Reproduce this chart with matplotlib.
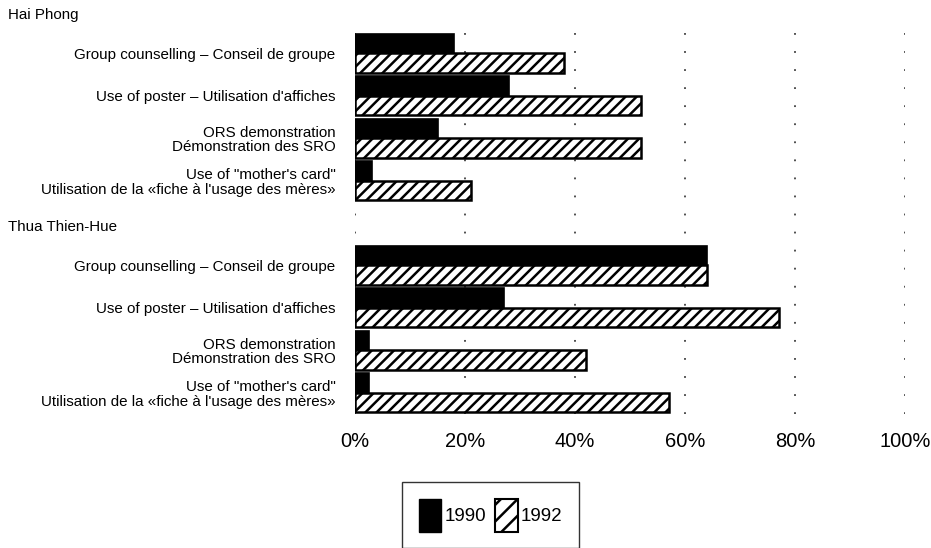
import matplotlib
matplotlib.use('Agg')
import matplotlib.pyplot as plt
from matplotlib.patches import Patch
from matplotlib.transforms import blended_transform_factory
import numpy as np

plt.rcParams['font.family'] = ['Liberation Sans', 'DejaVu Sans']
plt.rcParams['hatch.linewidth'] = 1.8
plt.rcParams['hatch.color'] = 'black'

# ---- data ----
groups = ['Hai Phong', 'Thua Thien-Hue']
categories = [
    'Group counselling – Conseil de groupe',
    "Use of poster – Utilisation d'affiches",
    'ORS demonstration\nDémonstration des SRO',
    'Use of "mother\'s card"\nUtilisation de la «fiche à l\'usage des mères»',
]
series_labels = ['1990', '1992']
hai_phong_1990 = [18, 28, 15, 3]
hai_phong_1992 = [38, 52, 52, 21]
thua_thien_hue_1990 = [64, 27, 2.5, 2.5]
thua_thien_hue_1992 = [64, 77, 42, 57]
x_ticks = [0, 20, 40, 60, 80, 100]
x_tick_labels = ['0%', '20%', '40%', '60%', '80%', '100%']

# ---- layout ----
W, H = 931, 548
fig = plt.figure(figsize=(W / 100, H / 100), dpi=100)
ax = fig.add_axes([355 / W, (H - 414) / H, (905 - 355) / W, (414 - 32) / H])

data_by_group = [(hai_phong_1990, hai_phong_1992),
                 (thua_thien_hue_1990, thua_thien_hue_1992)]
n = len(categories)
bar_h = 0.46
ytick_pos, ytick_lab, header_pos = [], [], []
for g, (v90, v92) in enumerate(data_by_group):
    base = g * (n + 1)
    header_pos.append(base)
    pos = np.arange(base + 1, base + 1 + n)
    ax.barh(pos - bar_h / 2, v90, height=bar_h, color='black',
            edgecolor='black', linewidth=1.2, zorder=3)
    ax.barh(pos + bar_h / 2, v92, height=bar_h, color='white',
            edgecolor='black', linewidth=1.8, hatch='///', zorder=3)
    ytick_pos.extend(pos)
    ytick_lab.extend(categories)

ax.set_xlim(0, 100)
ax.set_ylim(len(groups) * (n + 1) - 0.5, 0.5)
ax.set_xticks(x_ticks)
ax.set_xticklabels(x_tick_labels, fontsize=14.5)
ax.set_yticks(ytick_pos)
ax.set_yticklabels(ytick_lab, fontsize=10.9, linespacing=1.05)
ax.tick_params(axis='x', length=0, pad=13)
ax.tick_params(axis='y', length=0, pad=14)
for s in ax.spines.values():
    s.set_visible(False)
ax.set_axisbelow(True)
ax.xaxis.grid(True, linestyle=(0, (1, 9)), color='0.25', linewidth=1.3)
ax.yaxis.grid(False)

trans = blended_transform_factory(fig.transFigure, ax.transData)
for name, yp in zip(groups, header_pos):
    ax.text(8 / W, yp + 0.1, name, transform=trans, fontsize=10.9,
            ha='left', va='center', clip_on=False)

handles = [Patch(facecolor='black', edgecolor='black'),
           Patch(facecolor='white', edgecolor='black', hatch='//', linewidth=1.5)]
leg = fig.legend(handles, series_labels, loc='upper left',
                 bbox_to_anchor=(402 / W, 1 - 482 / H), ncol=2,
                 fontsize=13.5, frameon=True, fancybox=False, shadow=False,
                 borderpad=0.9, handlelength=1.2, handleheight=2.3,
                 handletextpad=0.15, columnspacing=0.5, borderaxespad=0)
leg.get_frame().set_edgecolor('black')
leg.get_frame().set_linewidth(1.0)

fig.savefig('out.png', dpi=100)
